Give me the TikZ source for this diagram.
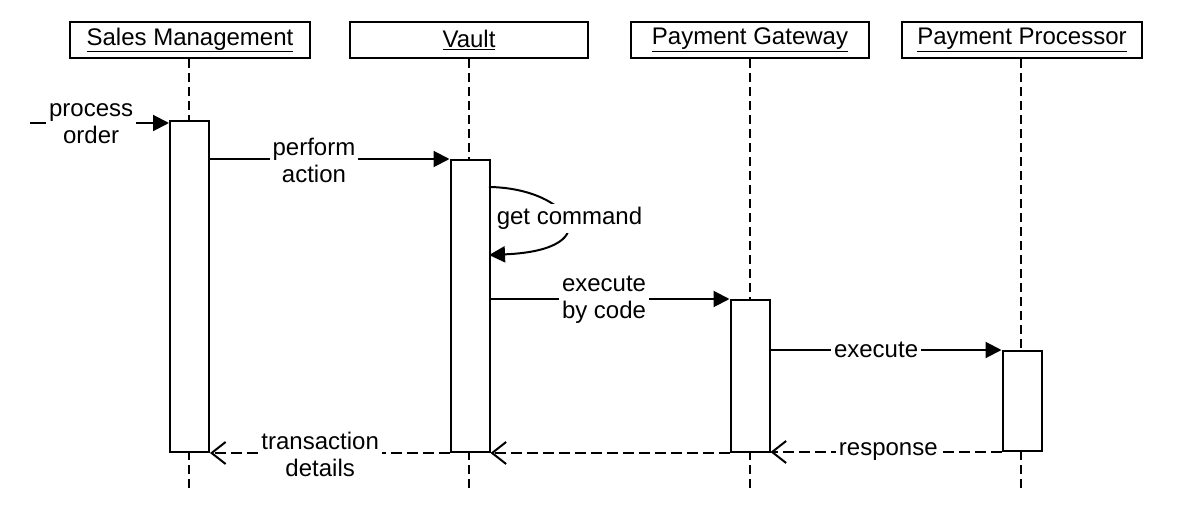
\documentclass[tikz,border=0pt]{standalone}
\usepackage{fontspec}
\setmainfont{Liberation Sans}
\usetikzlibrary{arrows.meta}
\tikzset{
  actor/.style={draw, line width=2pt, minimum width=240pt, minimum height=36pt, inner sep=0pt, font=\fontsize{24}{27}\selectfont},
  lifeline/.style={line width=1.6pt, dash pattern=on 9pt off 5pt},
  actbox/.style={draw, fill=white, line width=2pt, minimum width=39pt, inner sep=0pt},
  msg/.style={line width=2pt, -{Triangle[length=16pt,width=16pt]}},
  ret/.style={line width=2pt, dash pattern=on 11pt off 5pt, -{Straight Barb[length=14pt,width=22pt,line width=2pt]}},
  lbl/.style={fill=white, inner sep=3pt, align=center, font=\fontsize{24}{27}\selectfont},
}
\begin{document}
\begin{tikzpicture}[x=1pt,y=-1pt]
\useasboundingbox (0,0) rectangle (1184,532);
% actors
\node[actor] (sm) at (190,40) {\underline{Sales Management}};
\node[actor, minimum width=238pt] (va) at (469,40) {\underline{Vault}};
\node[actor, minimum width=238pt] (pg) at (750,40) {\underline{Payment Gateway}};
\node[actor] (pp) at (1022,40) {\underline{Payment Processor}};
% lifeline ends
\coordinate (sme) at (189,489);
\coordinate (vae) at (469,489);
\coordinate (pge) at (750,489);
\coordinate (ppe) at (1021,489);
\draw[lifeline] (sm.south -| sme) -- (sme);
\draw[lifeline] (va.south -| vae) -- (vae);
\draw[lifeline] (pg.south -| pge) -- (pge);
\draw[lifeline] (pp.south -| ppe) -- (ppe);
% activation boxes
\node[actbox, minimum height=331pt] (sm1) at (189.5,286.5) {};
\node[actbox, minimum height=292pt] (va1) at (470,306) {};
\node[actbox, minimum height=152pt] (pg1) at (750,376) {};
\node[actbox, minimum height=100pt] (pp1) at (1022,401) {};
% process order
\coordinate (start) at (30,123);
\draw[msg] (start) -- node[lbl, pos=0.44, yshift=-1pt] {process\\order} (start -| sm1.west);
% perform action
\draw[msg] (sm1.east |- va1.north) -- node[lbl, pos=0.434, yshift=-1pt] {perform\\action} (va1.north west);
% get command
\coordinate (gc1) at (489,187);
\coordinate (gc2) at (489,255);
\draw[msg] (gc1) .. controls (570,188) and (612,250) .. node[lbl, pos=0.5, xshift=4pt, yshift=1pt] {get command} (gc2);
% execute by code
\draw[msg] (va1.east |- pg1.north) -- node[lbl, pos=0.475, yshift=-1pt] {execute\\by code} (pg1.north west);
% execute
\draw[msg] (pg1.east |- pp1.north) -- node[lbl, pos=0.457] {execute} (pp1.north west);
% response
\draw[ret] (pp1.south west) -- node[lbl, pos=0.49] {response} (pp1.south west -| pg1.east);
% gateway to vault
\draw[ret] (pg1.south west) -- (pg1.south west -| va1.east);
% transaction details
\draw[ret] (va1.south west) -- node[lbl, pos=0.54, yshift=-1pt] {transaction\\details} (sm1.south east);
\end{tikzpicture}
\end{document}
